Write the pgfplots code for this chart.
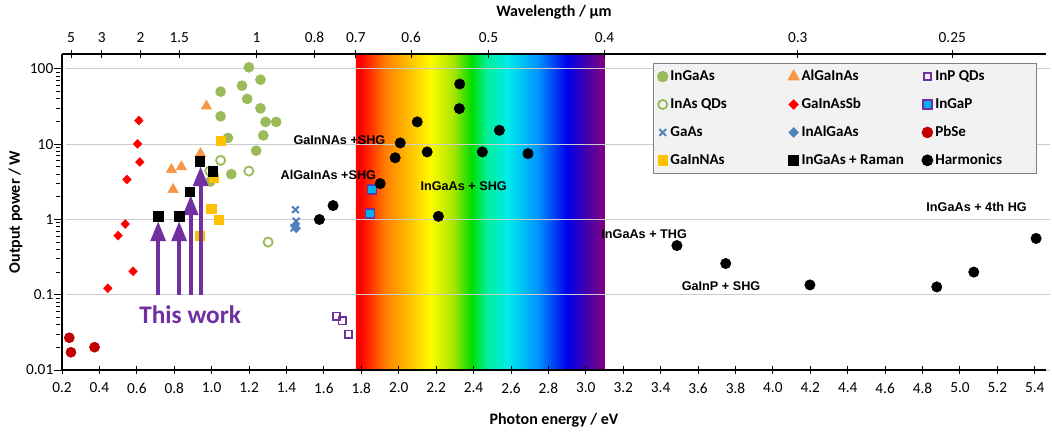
\documentclass[border=0pt]{standalone}
\usepackage{fontspec}
\setmainfont{Carlito}
\newfontfamily\arialfont{Liberation Sans}
\usepackage{pgfplots}
\pgfplotsset{compat=1.18}
\usetikzlibrary{arrows.meta}

\definecolor{cGreen}{RGB}{155,187,89}
\definecolor{cOrange}{RGB}{247,150,70}
\definecolor{cPurple}{RGB}{112,48,160}
\definecolor{cCyan}{RGB}{0,176,240}
\definecolor{cBlue}{RGB}{79,129,189}
\definecolor{cDarkRed}{RGB}{192,0,0}
\definecolor{cYellow}{RGB}{255,192,0}

% rainbow band, 0.7 um .. 0.4 um (inner 25bp..75bp fills the path)
\definecolor{rb0}{RGB}{255,0,0}
\definecolor{rb1}{RGB}{255,128,0}
\definecolor{rb2}{RGB}{255,250,0}
\definecolor{rb3}{RGB}{170,230,0}
\definecolor{rb4}{RGB}{0,220,0}
\definecolor{rb5}{RGB}{0,240,150}
\definecolor{rb6}{RGB}{0,235,235}
\definecolor{rb7}{RGB}{0,150,255}
\definecolor{rb8}{RGB}{0,0,235}
\definecolor{rb9}{RGB}{70,0,170}
\definecolor{rb10}{RGB}{128,0,128}
\pgfdeclarehorizontalshading{rainbow}{100bp}{color(0bp)=(rb0); color(26bp)=(rb0);
  color(31bp)=(rb1); color(40bp)=(rb2); color(44.5bp)=(rb3); color(48.25bp)=(rb4);
  color(51.25bp)=(rb5); color(55.5bp)=(rb6); color(61.5bp)=(rb7); color(67.5bp)=(rb8);
  color(71.5bp)=(rb9); color(75bp)=(rb10); color(100bp)=(rb10)}

\begin{document}
\begin{tikzpicture}
% background rainbow
\begin{axis}[at={(0,0)}, anchor=south west, scale only axis,
    width=738pt, height=237pt, xmin=0.2, xmax=5.46, ymode=log, ymin=0.01, ymax=158,
    hide axis]
  \path[shading=rainbow, shade] (axis cs:1.771,0.01) rectangle (axis cs:3.1,158);
\end{axis}

\begin{axis}[at={(0,0)}, anchor=south west, scale only axis,
    width=738pt, height=237pt, xmin=0.2, xmax=5.46, ymode=log, ymin=0.01, ymax=158,
    axis x line*=bottom, axis y line*=left,
    axis line style={line width=1.2pt},
    xtick={0.2,0.4,...,5.4},
    xticklabel style={yshift=-3pt, /pgf/number format/.cd, fixed, fixed zerofill, precision=1},
    /pgf/number format/assume math mode=true,
    ytick={0.01,0.1,1,10,100}, yticklabels={0.01,0.1,1,10,100},
    minor ytick={},
    tick align=center, major tick length=6pt,
    tick style={black, line width=0.7pt},
    y tick style={xshift=-3pt},
    ymajorgrids, grid style={gray!40, line width=0.7pt, xshift=3pt},
    tick label style={font=\fontsize{11.5}{13}\selectfont},
    label style={font=\bfseries\fontsize{12}{14}\selectfont},
    xlabel={Photon energy / eV}, ylabel={Output power / W},
    xlabel style={yshift=-8pt}, ylabel style={yshift=-4pt},
    clip mode=individual,
    legend columns=3,
    legend cell align=left,
    legend style={at={(0.6006,0.9715)}, anchor=north west, fill=gray!10,
      draw=gray, line width=1pt, font=\bfseries\fontsize{11.3}{13}\selectfont,
      row sep=7.5pt, inner sep=3pt},
  ]
  \addplot[only marks, mark=*, mark size=3.8pt, color=cGreen] coordinates {
    (1.199,105) (1.261,72) (1.048,50) (1.162,60) (1.190,40) (1.048,23.5) (1.261,30)
    (1.288,19.8) (1.345,19.8) (1.087,12.1) (1.276,13.1) (1.238,8.2) (1.105,4.0) (0.993,3.2)};
  \addlegendentry{\makebox[86.5pt][l]{InGaAs}}
  \addplot[only marks, mark=triangle*, mark size=4.5pt, color=cOrange] coordinates {
    (0.972,32) (0.785,4.6) (0.838,5.0) (0.794,2.5) (0.94,7.5)};
  \addlegendentry{\makebox[88.5pt][l]{AlGaInAs}}
  \addplot[only marks, mark=square, mark size=2.7pt, color=cPurple, mark options={line width=1.3pt}] coordinates {
    (1.668,0.052) (1.697,0.045) (1.731,0.030)};
  \addlegendentry{\makebox[71pt][l]{InP QDs}}
  \addplot[only marks, mark=o, mark size=3.4pt, color=cGreen, mark options={line width=1.4pt}] coordinates {
    (1.048,6.1) (1.199,4.4) (1.302,0.50) (0.99,4.4)};
  \addlegendentry{InAs QDs}
  \addplot[only marks, mark=diamond*, mark size=3.3pt, color=red, mark options={xscale=1.3}] coordinates {
    (0.611,20.6) (0.604,10.1) (0.616,5.8) (0.547,3.4) (0.538,0.87) (0.50,0.61) (0.58,0.205) (0.445,0.122)};
  \addlegendentry{GaInAsSb}
  \addplot[only marks, mark=square*, mark size=3.3pt, draw=cPurple, fill=cCyan, mark options={line width=1.2pt}] coordinates {
    (1.857,2.5) (1.846,1.2)};
  \addlegendentry{InGaP}
  \addplot[only marks, mark=x, mark size=3.6pt, color=cBlue, mark options={line width=1.5pt}] coordinates {
    (1.448,1.35) (1.452,0.95) (1.44,0.77)};
  \addlegendentry{GaAs}
  \addplot[only marks, mark=diamond*, mark size=3.3pt, color=cBlue, mark options={xscale=1.3}] coordinates {
    (1.452,0.76) (1.445,0.82)};
  \addlegendentry{InAlGaAs}
  \addplot[only marks, mark=*, mark size=3.8pt, color=cDarkRed] coordinates {
    (0.239,0.0268) (0.248,0.0172) (0.374,0.0201)};
  \addlegendentry{PbSe}
  \addplot[only marks, mark=square*, mark size=3.4pt, color=cYellow] coordinates {
    (1.048,11.2) (1.012,3.57) (0.998,1.40) (1.037,1.0) (0.936,0.61)};
  \addlegendentry{GaInNAs}
  % "This work" arrows
  \addplot[cPurple, line width=3pt, -{Triangle[width=11pt,length=15pt]}, forget plot]
    coordinates {(0.714,0.1) (0.714,0.95)};
  \addplot[cPurple, line width=3pt, -{Triangle[width=11pt,length=15pt]}, forget plot]
    coordinates {(0.826,0.1) (0.826,0.95)};
  \addplot[cPurple, line width=3pt, -{Triangle[width=11pt,length=15pt]}, forget plot]
    coordinates {(0.888,0.1) (0.888,2.1)};
  \addplot[cPurple, line width=3pt, -{Triangle[width=11pt,length=15pt]}, forget plot]
    coordinates {(0.941,0.1) (0.941,5.1)};
  \addplot[only marks, mark=square*, mark size=3.6pt, color=black] coordinates {
    (0.714,1.10) (0.826,1.10) (0.883,2.33) (0.936,5.9) (1.005,4.4)};
  \addlegendentry{InGaAs + Raman}
  \addplot[only marks, mark=*, mark size=3.9pt, color=black] coordinates {
    (1.576,1.0) (1.649,1.53) (1.901,3.0) (1.981,6.6) (2.008,10.4) (2.326,63) (2.324,29.7)
    (2.099,19.8) (2.152,7.9) (2.447,7.9) (2.538,15.3) (2.691,7.5) (2.212,1.10)
    (3.487,0.45) (3.748,0.26) (4.198,0.135) (4.876,0.127) (5.074,0.20) (5.407,0.56)};
  \addlegendentry{Harmonics}

  \begin{scope}[font=\arialfont\bfseries\fontsize{9.5}{11}\selectfont]
    \node at (axis cs:1.683,11.5) {GaInNAs +SHG};
    \node at (axis cs:1.624,3.93) {AlGaInAs +SHG};
    \node at (axis cs:2.347,2.76) {InGaAs + SHG};
    \node at (axis cs:3.312,0.644) {InGaAs + THG};
    \node at (axis cs:3.723,0.130) {GaInP + SHG};
    \node at (axis cs:5.089,1.47) {InGaAs + 4th HG};
  \end{scope}
  \node[text=cPurple, font=\bfseries\fontsize{19}{22}\selectfont] at (axis cs:0.885,0.0546) {This work};
\end{axis}

% wavelength axis on top
\begin{axis}[at={(0,0)}, anchor=south west, scale only axis,
    width=738pt, height=237pt, xmin=0.2, xmax=5.46, ymin=0, ymax=1,
    axis x line*=top, axis y line=none, ytick=\empty,
    axis line style={line width=1.2pt},
    xtick={0.248,0.413,0.620,0.827,1.240,1.550,1.771,2.066,2.480,3.100,4.133,4.959},
    xticklabels={5,3,2,1.5,1,0.8,0.7,0.6,0.5,0.4,0.3,0.25},
    xticklabel style={yshift=2pt},
    tick align=center, major tick length=6pt,
    tick style={black, line width=0.7pt},
    tick label style={font=\fontsize{11.5}{13}\selectfont},
    label style={font=\bfseries\fontsize{12}{14}\selectfont},
    xlabel={Wavelength / µm}, xlabel style={yshift=3pt},
  ]
\end{axis}
\pgfresetboundingbox
\path[use as bounding box] (-46.5pt,-46.5pt) rectangle (742.5pt,277.5pt);
\end{tikzpicture}
\end{document}
